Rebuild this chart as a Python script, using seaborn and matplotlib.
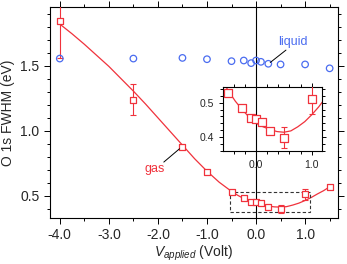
"""O 1s FWHM vs applied voltage, gas and liquid phase, with zoomed inset."""

import matplotlib
import pandas as pd
import seaborn as sns

matplotlib.use("Agg")
import matplotlib.pyplot as plt
from matplotlib.patches import Rectangle
from matplotlib.ticker import FormatStrFormatter, MultipleLocator

# gas-phase points (red squares)
gas_v = [-4.0, -2.5, -1.5, -1.0, -0.5, -0.25, -0.1, 0.0, 0.1, 0.25, 0.5, 1.0, 1.5]
gas_fwhm = [1.84, 1.24, 0.875, 0.68, 0.528, 0.485, 0.456, 0.452, 0.443, 0.418, 0.398, 0.512, 0.57]
gas_err = [0.28, 0.12, 0.0, 0.0, 0.0, 0.0, 0.0, 0.0, 0.0, 0.0, 0.03, 0.045, 0.0]

# liquid-phase points (blue circles)
liq_v = [-4.0, -2.5, -1.5, -1.0, -0.5, -0.25, -0.1, 0.0, 0.1, 0.25, 0.5, 1.0, 1.5]
liq_fwhm = [1.555, 1.555, 1.56, 1.55, 1.535, 1.54, 1.52, 1.54, 1.53, 1.515, 1.51, 1.51, 1.48]

# fitted curve through the gas points
fit_v = [-4.0, -3.75, -3.5, -3.25, -3.0, -2.75, -2.5, -2.25, -2.0, -1.75, -1.5, -1.25,
         -1.0, -0.75, -0.5, -0.375, -0.25, -0.125, 0.0, 0.125, 0.25, 0.375, 0.5, 0.625,
         0.75, 0.875, 1.0, 1.125, 1.25, 1.375, 1.5]
fit_fwhm = [1.82, 1.745, 1.665, 1.58, 1.495, 1.40, 1.305, 1.205, 1.10, 0.995, 0.89, 0.785,
            0.69, 0.605, 0.535, 0.505, 0.48, 0.458, 0.44, 0.43, 0.422, 0.416, 0.414, 0.418,
            0.43, 0.445, 0.465, 0.488, 0.515, 0.54, 0.57]

RED = "#f0323c"
BLUE = "#4a6cf0"

gas = pd.DataFrame({"v": gas_v, "fwhm": gas_fwhm, "err": gas_err})
liq = pd.DataFrame({"v": liq_v, "fwhm": liq_fwhm})
fit = pd.DataFrame({"v": fit_v, "fwhm": fit_fwhm})

sns.set_style("ticks")
plt.rcParams["font.family"] = ["Liberation Sans", "DejaVu Sans"]
plt.rcParams["axes.unicode_minus"] = False
plt.rcParams["mathtext.fontset"] = "custom"
plt.rcParams["mathtext.it"] = "Liberation Sans:italic"
plt.rcParams["mathtext.rm"] = "Liberation Sans"


def draw_data(ax, ms):
    ax.axvline(0, color="black", lw=0.8, zorder=1)
    sns.lineplot(data=fit, x="v", y="fwhm", color=RED, lw=0.9, ax=ax, zorder=2)
    err = gas[gas["err"] > 0]
    ax.errorbar(err["v"], err["fwhm"], yerr=err["err"], fmt="none", ecolor=RED,
                elinewidth=0.8, capsize=2.5, capthick=0.8, zorder=3)
    sns.scatterplot(data=gas, x="v", y="fwhm", marker="s", s=ms, facecolor="white",
                    edgecolor=RED, linewidth=0.9, ax=ax, zorder=4)


def style_ticks(ax, labelsize, major, minor):
    ax.tick_params(which="both", direction="out", top=True, right=True,
                   labeltop=False, labelright=False, width=0.7, color="black",
                   labelsize=labelsize)
    ax.tick_params(which="major", length=major)
    ax.tick_params(which="minor", length=minor)
    for s in ax.spines.values():
        s.set_linewidth(0.8)
        s.set_color("black")
    ax.xaxis.set_major_formatter(FormatStrFormatter("%.1f"))
    ax.yaxis.set_major_formatter(FormatStrFormatter("%.1f"))


fig = plt.figure(figsize=(3.47, 2.64), dpi=100)
ax = fig.add_axes([0.144, 0.174, 0.830, 0.799])

sns.scatterplot(data=liq, x="v", y="fwhm", marker="o", s=22, facecolor="none",
                edgecolor=BLUE, linewidth=0.9, ax=ax, zorder=4)
draw_data(ax, 22)

ax.add_patch(Rectangle((-0.53, 0.38), 1.62, 0.15, fill=False, ls=(0, (3, 2)),
                       lw=0.8, edgecolor="#333333", zorder=2))

# labels with leader lines
ax.text(0.76, 1.68, "liquid", color=BLUE, fontsize=9, ha="center", va="center")
ax.plot([0.61, 0.29], [1.62, 1.525], color="black", lw=0.7, zorder=5)
ax.text(-2.06, 0.705, "gas", color=RED, fontsize=9, ha="center", va="center")
ax.plot([-1.88, -1.56], [0.76, 0.862], color="black", lw=0.7, zorder=5)

ax.set_xlim(-4.2, 1.67)
ax.set_ylim(0.33, 1.95)
ax.xaxis.set_major_locator(MultipleLocator(1.0))
ax.xaxis.set_minor_locator(MultipleLocator(0.5))
ax.yaxis.set_major_locator(MultipleLocator(0.5))
ax.yaxis.set_minor_locator(MultipleLocator(0.1))
style_ticks(ax, 10, 4, 2.5)
ax.set_xlabel(r"$V_{applied}$ (Volt)", fontsize=10, labelpad=1)
ax.set_ylabel("O 1s FWHM (eV)", fontsize=10, labelpad=4)

# inset zoom on the minimum
ins = fig.add_axes([0.6435, 0.429, 0.2853, 0.240])
draw_data(ins, 26)
ins.set_xlim(-0.59, 1.19)
ins.set_ylim(0.36, 0.545)
ins.xaxis.set_major_locator(MultipleLocator(1.0))
ins.xaxis.set_minor_locator(MultipleLocator(0.2))
ins.yaxis.set_major_locator(MultipleLocator(0.1))
ins.yaxis.set_minor_locator(MultipleLocator(0.02))
style_ticks(ins, 7.5, 3, 2)
ins.set_xlabel("")
ins.set_ylabel("")

fig.savefig("out.png", dpi=100)
plt.close(fig)
